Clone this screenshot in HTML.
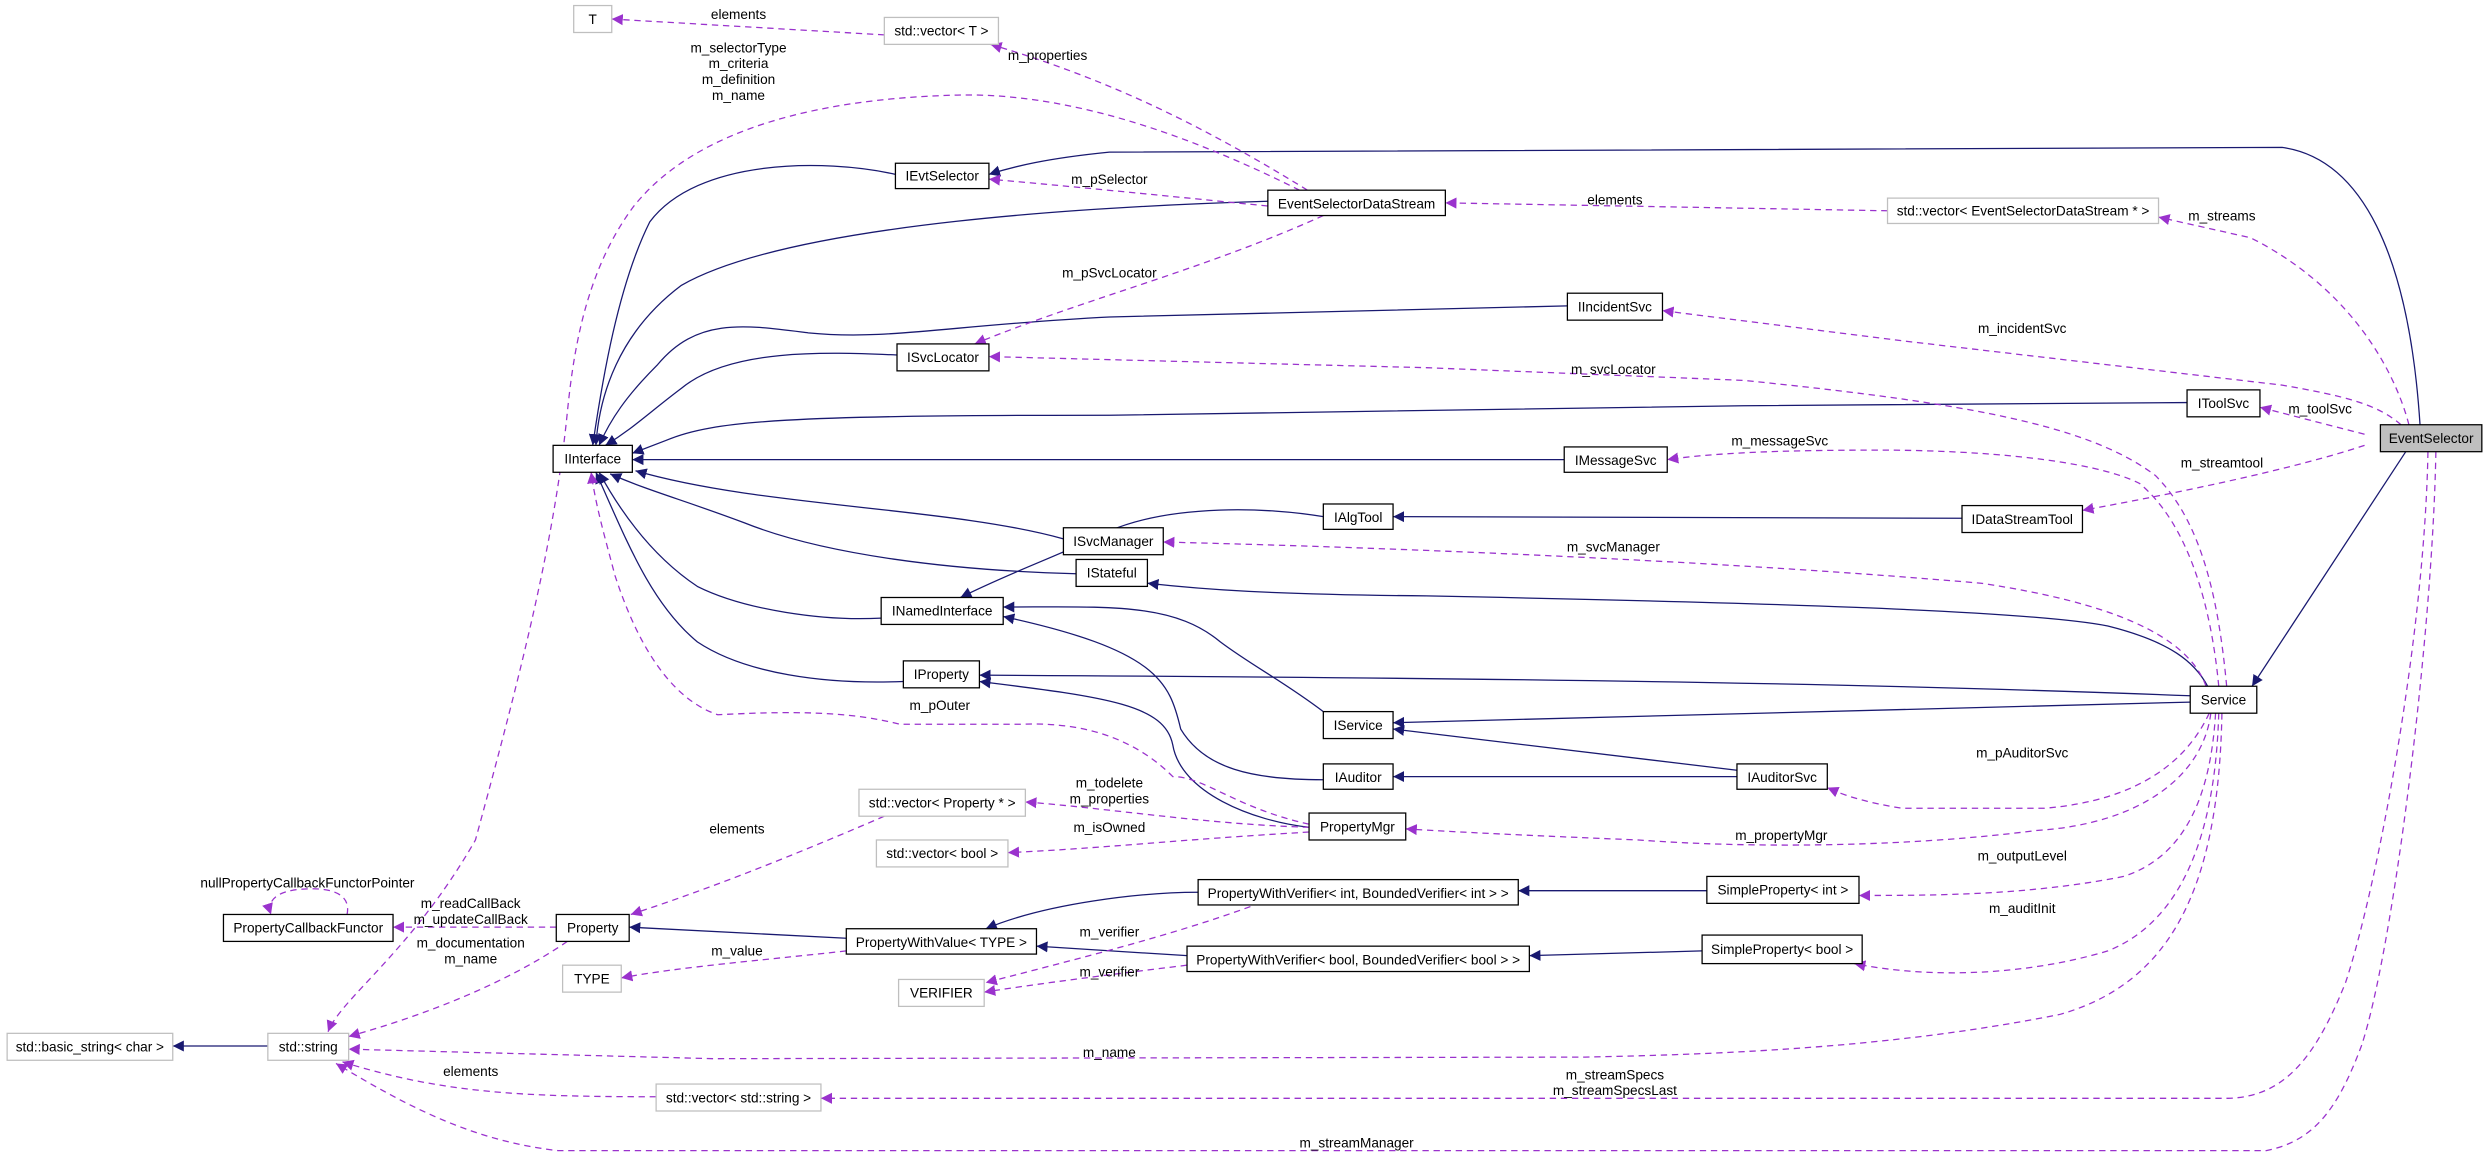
<!DOCTYPE html>
<html><head><meta charset="utf-8"><style>
html,body{margin:0;padding:0;background:#fff;}
svg{display:block;}
text{font-family:"Liberation Sans",sans-serif;font-size:8.6px;fill:#000;}
.b{fill:#fff;stroke:#000;stroke-width:0.8;}
.g{fill:#fff;stroke:#bfbfbf;stroke-width:0.8;}
.s{fill:none;stroke:#191970;stroke-width:0.8;}
.d{fill:none;stroke:#9a32cd;stroke-width:0.8;stroke-dasharray:4,3;}
</style></head><body>
<svg width="2485" height="1156" viewBox="0 0 1568 729.4" preserveAspectRatio="none" xmlns="http://www.w3.org/2000/svg">
<defs>
<marker id="an" markerUnits="userSpaceOnUse" markerWidth="8" markerHeight="8" refX="7" refY="4" orient="auto"><path d="M0,0.5 L7,4 L0,7.5 z" fill="#191970"/></marker>
<marker id="ap" markerUnits="userSpaceOnUse" markerWidth="8" markerHeight="8" refX="7" refY="4" orient="auto"><path d="M0,0.5 L7,4 L0,7.5 z" fill="#9a32cd"/></marker>
</defs>
<rect width="1568" height="729.4" fill="#fff"/>
<g marker-end="url(#an)">
<path class="s" d="M1527,268 C1520,160 1490,100 1440,93 L700,96 C660,100 640,105 624,110"/>
<path class="s" d="M1518,285 L1421,433"/>
<path class="s" d="M800,127 C700,130 500,140 430,180 C390,210 378,250 376,281"/>
<path class="s" d="M565,110 C520,100 440,100 410,140 C390,180 380,240 374,281"/>
<path class="s" d="M989,193 L700,200 C600,205 560,215 510,210 C470,205 440,200 415,230 C395,250 385,265 378,281"/>
<path class="s" d="M566,224 C520,222 460,220 430,245 C410,260 400,270 382,281"/>
<path class="s" d="M1380,254 L1100,256 L700,262 C500,262 450,265 420,278 L399,286"/>
<path class="s" d="M987,290 L399,290"/>
<path class="s" d="M671,340 C600,320 480,320 401,297"/>
<path class="s" d="M679,362 C600,360 520,350 470,330 C430,315 410,310 385,299"/>
<path class="s" d="M556,390 C520,392 470,385 440,370 C410,350 390,320 378,298"/>
<path class="s" d="M570,430 C520,432 470,425 440,405 C410,380 395,340 376,298"/>
<path class="s" d="M835,326 C800,320 740,318 700,335 C670,350 640,360 606,377"/>
<path class="s" d="M1238,327 L879,326"/>
<path class="s" d="M1393,433 C1385,418 1370,405 1330,395 C1280,385 1100,380 900,376 C800,375 760,372 724,368"/>
<path class="s" d="M835,449 C810,430 790,420 770,405 C740,380 700,383 633,383"/>
<path class="s" d="M835,492 C790,492 760,485 745,460 C738,430 730,410 633,389"/>
<path class="s" d="M1382,439 C1200,432 1000,428 618,426"/>
<path class="s" d="M826,522 C790,518 745,500 740,470 C735,445 700,440 618,430"/>
<path class="s" d="M1382,443 L879,456"/>
<path class="s" d="M1096,486 L879,460"/>
<path class="s" d="M1096,490 L879,490"/>
<path class="s" d="M1077,562 L958,562"/>
<path class="s" d="M1074,600 L965,603"/>
<path class="s" d="M756,563 C720,563 660,570 622,586"/>
<path class="s" d="M749,603 L654,597"/>
<path class="s" d="M534,592 L397,585"/>
<path class="s" d="M169,660 L109,660"/>
</g>
<g marker-end="url(#ap)">
<path class="d" d="M558,22 L386,12"/>
<path class="d" d="M825,120 C760,80 700,50 625,28"/>
<path class="d" d="M820,120 C760,90 680,58 604,60 C520,62 440,80 400,130 C370,170 362,220 358,260 C350,340 330,420 300,530 C260,600 215,630 207,651"/>
<path class="d" d="M800,130 C720,122 680,118 624,113"/>
<path class="d" d="M835,136 C760,170 680,190 615,217"/>
<path class="d" d="M1191,133 L912,128"/>
<path class="d" d="M1520,268 C1510,230 1480,180 1420,150 L1362,137"/>
<path class="d" d="M1515,268 C1500,255 1480,250 1440,243 L1200,215 L1049,196"/>
<path class="d" d="M1405,433 C1400,380 1390,330 1360,300 C1320,270 1250,255 1100,240 L900,232 L624,225"/>
<path class="d" d="M1492,274 L1426,257"/>
<path class="d" d="M1400,433 C1395,380 1380,330 1350,305 C1320,290 1250,284 1185,284 C1120,284 1080,286 1052,290"/>
<path class="d" d="M1492,281 C1450,295 1380,310 1314,322"/>
<path class="d" d="M1392,433 C1380,400 1330,380 1250,368 C1100,355 900,346 734,342"/>
<path class="d" d="M826,520 C780,510 760,490 740,490 C720,470 690,455 644,457 L568,457 C540,450 510,448 453,451 C420,440 400,400 388,363 C382,340 376,320 373,298"/>
<path class="d" d="M826,522 C760,520 700,510 647,506"/>
<path class="d" d="M826,525 C740,530 700,535 636,538"/>
<path class="d" d="M1394,450 C1380,480 1350,505 1290,510 L1200,510 C1170,505 1160,500 1153,497"/>
<path class="d" d="M1395,450 C1390,490 1350,520 1285,524 C1200,535 1100,535 1034,530 C960,527 920,525 887,523"/>
<path class="d" d="M1398,450 C1395,500 1380,540 1340,553 C1280,565 1220,565 1173,565"/>
<path class="d" d="M1400,450 C1398,520 1380,580 1330,600 C1280,615 1220,618 1170,608"/>
<path class="d" d="M1402,450 C1400,560 1370,620 1300,640 C1200,660 1100,665 1000,667 L450,668 L220,662"/>
<path class="d" d="M414,692 C330,692 280,690 216,670"/>
<path class="d" d="M1532,285 C1530,400 1500,560 1480,620 C1460,670 1440,692 1406,693 L518,693"/>
<path class="d" d="M1537,285 C1535,400 1510,600 1490,660 C1475,700 1460,720 1430,726 L352,726 C300,720 260,700 212,671"/>
<path class="d" d="M358,594 C320,620 270,640 220,654"/>
<path class="d" d="M351,585 L248,585"/>
<path class="d" d="M219,577 C222,562 205,560 191,561 C175,562 168,568 171,577"/>
<path class="d" d="M558,515 C500,540 450,560 398,577"/>
<path class="d" d="M534,600 C480,606 430,610 392,617"/>
<path class="d" d="M789,572 C740,590 680,605 622,620"/>
<path class="d" d="M749,609 C700,615 660,620 621,626"/>
</g>
<!-- nodes -->
<g text-anchor="middle">
<rect class="g" x="362" y="3.5" width="24" height="17"/><text x="374" y="15">T</text>
<rect class="g" x="558" y="11" width="72" height="17"/><text x="594" y="22.5">std::vector&lt; T &gt;</text>
<rect class="g" x="1191" y="125" width="171" height="16"/><text x="1276.5" y="136">std::vector&lt; EventSelectorDataStream * &gt;</text>
<rect class="g" x="542" y="498" width="105" height="17"/><text x="594.5" y="509.5">std::vector&lt; Property * &gt;</text>
<rect class="g" x="553" y="530" width="83" height="17"/><text x="594.5" y="541.5">std::vector&lt; bool &gt;</text>
<rect class="g" x="355" y="609" width="37" height="17"/><text x="373.5" y="620.5">TYPE</text>
<rect class="g" x="567" y="618" width="54" height="17"/><text x="594" y="629.5">VERIFIER</text>
<rect class="g" x="4.5" y="652" width="104.5" height="17"/><text x="56.7" y="663.5">std::basic_string&lt; char &gt;</text>
<rect class="g" x="169" y="652" width="51" height="17"/><text x="194.5" y="663.5">std::string</text>
<rect class="g" x="414" y="684" width="104" height="17"/><text x="466" y="695.5">std::vector&lt; std::string &gt;</text>

<rect class="b" x="565" y="103" width="59" height="16"/><text x="594.5" y="114">IEvtSelector</text>
<rect class="b" x="800" y="120" width="112" height="16"/><text x="856" y="131.5">EventSelectorDataStream</text>
<rect class="b" x="989" y="185" width="60" height="17"/><text x="1019" y="196.5">IIncidentSvc</text>
<rect class="b" x="566" y="217" width="58" height="17"/><text x="595" y="228.5">ISvcLocator</text>
<rect class="b" x="1380" y="246" width="46" height="17"/><text x="1403" y="257.5">IToolSvc</text>
<rect x="1502" y="268" width="64" height="17" fill="#bfbfbf" stroke="#000" stroke-width="0.8"/><text x="1534" y="279.5">EventSelector</text>
<rect class="b" x="349" y="281" width="50" height="17"/><text x="374" y="292.5">IInterface</text>
<rect class="b" x="987" y="282" width="65" height="16"/><text x="1019.5" y="293.5">IMessageSvc</text>
<rect class="b" x="835" y="318" width="44" height="16"/><text x="857" y="329.5">IAlgTool</text>
<rect class="b" x="1238" y="319" width="76" height="17"/><text x="1276" y="330.5">IDataStreamTool</text>
<rect class="b" x="671" y="333" width="63" height="17"/><text x="702.5" y="344.5">ISvcManager</text>
<rect class="b" x="679" y="353" width="45" height="17"/><text x="701.5" y="364.5">IStateful</text>
<rect class="b" x="556" y="377" width="77" height="17"/><text x="594.5" y="388.5">INamedInterface</text>
<rect class="b" x="570" y="417" width="48" height="17"/><text x="594" y="428.5">IProperty</text>
<rect class="b" x="835" y="449" width="44" height="17"/><text x="857" y="460.5">IService</text>
<rect class="b" x="1382" y="433" width="42" height="17"/><text x="1403" y="444.5">Service</text>
<rect class="b" x="835" y="482" width="44" height="16"/><text x="857" y="493.5">IAuditor</text>
<rect class="b" x="1096" y="482" width="57" height="16"/><text x="1124.5" y="493.5">IAuditorSvc</text>
<rect class="b" x="826" y="513" width="61" height="17"/><text x="856.5" y="524.5">PropertyMgr</text>
<rect class="b" x="756" y="555" width="202" height="16"/><text x="857" y="566.5">PropertyWithVerifier&lt; int, BoundedVerifier&lt; int &gt; &gt;</text>
<rect class="b" x="1077" y="553" width="96" height="17"/><text x="1125" y="564.5">SimpleProperty&lt; int &gt;</text>
<rect class="b" x="749" y="597" width="216" height="16"/><text x="857" y="608.5">PropertyWithVerifier&lt; bool, BoundedVerifier&lt; bool &gt; &gt;</text>
<rect class="b" x="1074" y="590" width="101" height="18"/><text x="1124.5" y="602">SimpleProperty&lt; bool &gt;</text>
<rect class="b" x="141" y="577" width="107" height="17"/><text x="194.5" y="588.5">PropertyCallbackFunctor</text>
<rect class="b" x="351" y="577" width="46" height="17"/><text x="374" y="588.5">Property</text>
<rect class="b" x="534" y="586" width="120" height="16"/><text x="594" y="597.5">PropertyWithValue&lt; TYPE &gt;</text>

<!-- edge labels -->
<text x="466" y="12">elements</text>
<text x="661" y="38">m_properties</text>
<text x="466" y="33">m_selectorType</text>
<text x="466" y="43">m_criteria</text>
<text x="466" y="53">m_definition</text>
<text x="466" y="63">m_name</text>
<text x="700" y="116">m_pSelector</text>
<text x="700" y="175">m_pSvcLocator</text>
<text x="1019" y="129">elements</text>
<text x="1402" y="139">m_streams</text>
<text x="1276" y="210">m_incidentSvc</text>
<text x="1018" y="236">m_svcLocator</text>
<text x="1464" y="261">m_toolSvc</text>
<text x="1123" y="281">m_messageSvc</text>
<text x="1402" y="295">m_streamtool</text>
<text x="1018" y="348">m_svcManager</text>
<text x="593" y="448">m_pOuter</text>
<text x="700" y="497">m_todelete</text>
<text x="700" y="507">m_properties</text>
<text x="700" y="525">m_isOwned</text>
<text x="465" y="526">elements</text>
<text x="1276" y="478">m_pAuditorSvc</text>
<text x="1124" y="530">m_propertyMgr</text>
<text x="1276" y="543">m_outputLevel</text>
<text x="1276" y="576">m_auditInit</text>
<text x="700" y="591">m_verifier</text>
<text x="700" y="616">m_verifier</text>
<text x="465" y="603">m_value</text>
<text x="297" y="573">m_readCallBack</text>
<text x="297" y="583">m_updateCallBack</text>
<text x="297" y="598">m_documentation</text>
<text x="297" y="608">m_name</text>
<text x="194" y="560">nullPropertyCallbackFunctorPointer</text>
<text x="700" y="667">m_name</text>
<text x="297" y="679">elements</text>
<text x="1019" y="681">m_streamSpecs</text>
<text x="1019" y="691">m_streamSpecsLast</text>
<text x="856" y="724">m_streamManager</text>
</g>
</svg>
</body></html>
